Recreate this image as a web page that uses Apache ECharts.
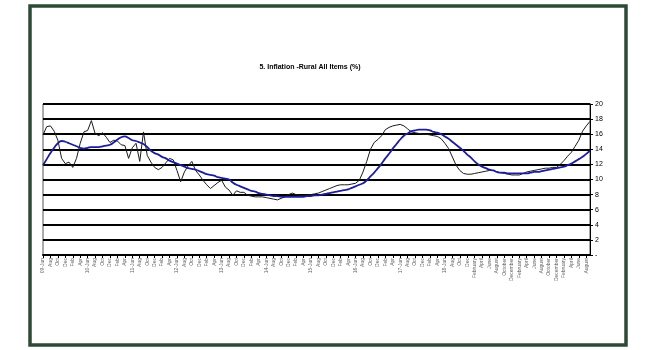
<!DOCTYPE html>
<html>
<head>
<meta charset="utf-8">
<script src="https://cdn.jsdelivr.net/npm/echarts@6/dist/echarts.min.js"></script>
<style>
html,body{margin:0;padding:0;background:#fff;}
#chart{width:650px;height:350px;}
</style>
</head>
<body>
<div id="chart"></div>
<script>
// Monthly categories, June 2009 onwards
const shortMonths = ["Jan","Feb","Mar","Apr","May","Jun","Jul","Aug","Sep","Oct","Nov","Dec"];
const longMonths = ["January","February","March","April","May","June","July","August","September","October","November","December"];
const startYear = 2009, startMonth = 5, monthCount = 148, longLabelsFrom = 116;
const categories = [];
for (let i = 0; i < monthCount; i++) {
  const m = (startMonth + i) % 12;
  const y = startYear + Math.floor((startMonth + i) / 12);
  if (i >= longLabelsFrom) categories.push(longMonths[m]);
  else if (m === 5) categories.push(String(y).slice(2) + "-Jun");
  else categories.push(shortMonths[m]);
}

// Rural all-items inflation (%), monthly
const inflation = [
  15.9,17.0,17.1,16.4,15.2,12.8,12.1,12.3,11.6,12.8,
  14.8,16.3,16.5,17.8,16.1,15.8,16.2,15.6,14.9,15.2,
  15.1,14.6,14.5,12.8,14.2,14.8,12.4,16.3,13.2,12.3,
  11.6,11.3,11.6,12.2,12.8,12.6,11.2,9.7,11.0,11.8,
  12.4,11.2,10.6,9.9,9.3,8.8,9.2,9.6,9.9,9.0,
  8.6,7.9,8.5,8.3,8.3,7.9,7.8,7.7,7.7,7.7,
  7.6,7.5,7.4,7.3,7.5,7.7,8.0,8.2,8.0,7.9,
  7.9,7.9,8.0,8.1,8.2,8.4,8.6,8.8,9.0,9.2,
  9.3,9.3,9.3,9.4,9.5,9.9,11.0,12.4,14.0,14.9,
  15.3,15.8,16.6,16.9,17.1,17.2,17.3,17.1,16.7,16.3,
  16.2,16.1,16.0,16.0,15.9,15.8,15.7,15.4,14.8,14.1,
  13.0,11.9,11.2,10.8,10.7,10.7,10.8,10.9,11.0,11.1,
  11.2,11.2,11.0,10.9,10.8,10.7,10.6,10.6,10.6,10.8,
  11.0,11.1,11.2,11.3,11.4,11.5,11.5,11.6,11.6,12.0,
  12.5,13.1,13.6,14.4,15.2,16.4,17.1,17.7
];

// Trend (smoothed) inflation (%), monthly
const trend = [
  11.9,12.7,13.5,14.2,14.8,15.1,15.0,14.8,14.6,14.4,
  14.2,14.1,14.2,14.3,14.3,14.3,14.4,14.5,14.6,14.9,
  15.3,15.6,15.7,15.5,15.2,15.1,14.9,14.7,14.3,13.8,
  13.5,13.3,13.0,12.8,12.5,12.3,12.1,11.9,11.7,11.5,
  11.4,11.3,11.1,10.9,10.7,10.6,10.5,10.3,10.2,10.1,
  10.0,9.6,9.3,9.1,8.9,8.7,8.5,8.4,8.2,8.1,
  8.0,7.9,7.8,7.8,7.7,7.7,7.7,7.7,7.7,7.7,
  7.7,7.8,7.8,7.9,7.9,8.0,8.1,8.2,8.3,8.4,
  8.5,8.6,8.7,8.9,9.1,9.3,9.5,9.9,10.4,10.9,
  11.5,12.1,12.8,13.4,14.1,14.7,15.3,15.8,16.1,16.4,
  16.5,16.6,16.6,16.6,16.5,16.3,16.2,16.0,15.7,15.4,
  15.0,14.6,14.2,13.8,13.3,12.9,12.4,12.0,11.7,11.5,
  11.3,11.2,11.0,10.9,10.9,10.8,10.8,10.8,10.8,10.8,
  10.8,10.9,11.0,11.0,11.1,11.2,11.3,11.4,11.5,11.6,
  11.7,11.9,12.1,12.4,12.7,13.0,13.4,13.8
];

const titleText = "5. Inflation -Rural All Items (%)";

const chart = echarts.init(document.getElementById('chart'), null, {renderer: 'canvas'});
chart.setOption({
  animation: false,
  backgroundColor: '#fff',
  textStyle: {fontFamily: 'Liberation Sans, Arial, sans-serif'},
  graphic: [
    {type: 'rect', shape: {x: 30, y: 6, width: 596, height: 339},
     style: {fill: 'none', stroke: '#2d4a36', lineWidth: 3.5}, z: 100},
    {type: 'text', x: 310, y: 67,
     style: {text: titleText, fill: '#000', fontSize: 7, fontWeight: 'bold',
             fontFamily: 'Liberation Sans, Arial, sans-serif',
             textAlign: 'center', textVerticalAlign: 'middle'}}
  ],
  grid: {left: 43, top: 104, width: 547, height: 151, show: true,
         borderColor: '#555', borderWidth: 1, backgroundColor: '#fff'},
  xAxis: {
    type: 'category', data: categories, boundaryGap: false,
    axisLine: {lineStyle: {color: '#000', width: 2}},
    axisTick: {show: true, interval: 1, length: 3, lineStyle: {color: '#000'}},
    axisLabel: {interval: 1, rotate: 90, fontSize: 5, color: '#666', margin: 3},
    splitLine: {show: false}
  },
  yAxis: {
    type: 'value', min: 0, max: 20, interval: 2, position: 'right',
    axisLine: {show: true, lineStyle: {color: '#000', width: 1}},
    axisTick: {show: true, length: 3, lineStyle: {color: '#000'}},
    axisLabel: {fontSize: 7, color: '#000', margin: 5,
                formatter: v => v === 0 ? '-' : String(v)},
    splitLine: {show: true, lineStyle: {color: '#000', width: 2}}
  },
  series: [
    {type: 'line', name: 'Inflation', data: inflation, showSymbol: false,
     lineStyle: {color: '#1a1a1a', width: 1}, z: 3},
    {type: 'line', name: 'Trend', data: trend, showSymbol: false, smooth: true,
     lineStyle: {color: '#1c1c9c', width: 1.8}, z: 4}
  ]
});
</script>
</body>
</html>
